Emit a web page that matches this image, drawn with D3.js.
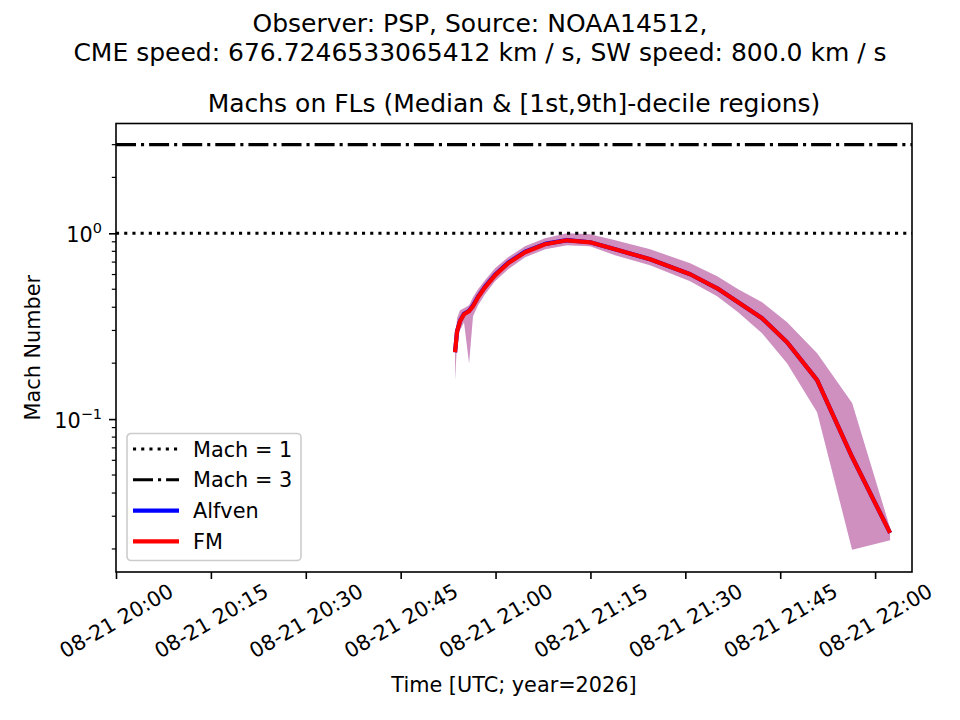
<!DOCTYPE html>
<html>
<head>
<meta charset="utf-8">
<script src="https://cdn.jsdelivr.net/npm/d3@7"></script>
<style>
  body { margin: 0; background: #fff; }
  svg text { font-family: "DejaVu Sans", sans-serif; fill: #000; }
</style>
</head>
<body>
<svg id="chart"></svg>
<script>
// sample times (UTC, 2026-08-21)
const times = ["20:53:36", "20:53:55", "20:54:23", "20:55:01", "20:55:49", "20:56:26",
  "20:57:14", "20:58:20", "20:59:55", "21:01:59", "21:04:40", "21:07:50", "21:11:18",
  "21:14:57", "21:18:54", "21:24:26", "21:30:46", "21:35:02", "21:38:21", "21:42:08",
  "21:46:05", "21:50:50", "21:56:22", "22:02:22"];

// FM mach number: median, 1st decile, 9th decile
const fmMedian = [0.229, 0.297, 0.336, 0.367, 0.381, 0.405, 0.453, 0.512, 0.594, 0.690,
  0.791, 0.873, 0.917, 0.894, 0.820, 0.725, 0.602, 0.506, 0.426, 0.349, 0.259, 0.162,
  0.0625, 0.0244];
const fmLow = [0.162, 0.259, 0.301, 0.332, 0.200, 0.358, 0.410, 0.470, 0.552, 0.640,
  0.743, 0.820, 0.862, 0.851, 0.762, 0.673, 0.552, 0.458, 0.376, 0.290, 0.200, 0.109,
  0.0198, 0.0223];
const fmHigh = [0.250, 0.349, 0.385, 0.395, 0.410, 0.453, 0.500, 0.559, 0.649, 0.743,
  0.851, 0.940, 1.000, 0.988, 0.917, 0.820, 0.690, 0.587, 0.500, 0.426, 0.332, 0.226,
  0.122, 0.0259];

// Alfven mach number (sits just under the FM curve)
const alfvenMedian = [0.229, 0.298, 0.337, 0.369, 0.383, 0.408, 0.456, 0.516, 0.598, 0.695,
  0.796, 0.877, 0.919, 0.895, 0.820, 0.725, 0.602, 0.506, 0.426, 0.349, 0.259, 0.162,
  0.0625, 0.0244];
const alfvenLow = fmLow;
const alfvenHigh = fmHigh;

const machLines = [1, 3];
const xTicks = ["20:00", "20:15", "20:30", "20:45", "21:00", "21:15", "21:30", "21:45", "22:00"];
const yMajor = [0.1, 1];
const yMinor = [0.02, 0.03, 0.04, 0.05, 0.06, 0.07, 0.08, 0.09, 0.2, 0.3, 0.4, 0.5, 0.6, 0.7, 0.8, 0.9, 2, 3];

const w = 960;
const h = 720;
const axL = 116, axR = 912, axT = 123.5, axB = 572;
const fs = 20.8;
const titleFs = 25;

const day = "2026-08-21T";
const parseT = (s) => new Date(day + (s.length === 5 ? s + ":00" : s) + "Z");

const svg = d3.select("#chart")
  .attr("width", w)
  .attr("height", h);

const xScale = d3.scaleUtc()
  .domain([parseT("20:00:00"), parseT("22:05:50")])
  .range([axL, axR]);

const yScale = d3.scaleLog()
  .domain([0.01503, 3.9])
  .range([axB, axT]);

const rows = times.map((t, i) => ({
  t: parseT(t),
  fm: fmMedian[i], fmLo: fmLow[i], fmHi: fmHigh[i],
  al: alfvenMedian[i], alLo: alfvenLow[i], alHi: alfvenHigh[i]
}));

svg.append("defs").append("clipPath").attr("id", "clip")
  .append("rect")
  .attr("x", axL).attr("y", axT)
  .attr("width", axR - axL).attr("height", axB - axT);

const plot = svg.append("g").attr("clip-path", "url(#clip)");

// decile bands
const band = (lo, hi) => d3.area()
  .x(d => xScale(d.t))
  .y0(d => yScale(d[lo]))
  .y1(d => yScale(d[hi]));

plot.append("path")
  .datum(rows)
  .attr("d", band("alLo", "alHi"))
  .attr("fill", "blue")
  .attr("fill-opacity", 0.25);

plot.append("path")
  .datum(rows)
  .attr("d", band("fmLo", "fmHi"))
  .attr("fill", "red")
  .attr("fill-opacity", 0.25);

// mach = 1 and mach = 3 reference lines
const machStyle = { 1: "3.1 5.1", 3: "20 5 3.1 5" };
plot.selectAll(".mach")
  .data(machLines)
  .join("line")
  .attr("class", "mach")
  .attr("x1", axL).attr("x2", axR)
  .attr("y1", d => yScale(d)).attr("y2", d => yScale(d))
  .attr("stroke", "#000")
  .attr("stroke-width", 3.1)
  .attr("stroke-dasharray", d => machStyle[d]);

// medians
const medLine = (key) => d3.line()
  .x(d => xScale(d.t))
  .y(d => yScale(d[key]));

plot.append("path")
  .datum(rows)
  .attr("d", medLine("al"))
  .attr("fill", "none")
  .attr("stroke", "blue")
  .attr("stroke-width", 4.2)
  .attr("stroke-linejoin", "round");

plot.append("path")
  .datum(rows)
  .attr("d", medLine("fm"))
  .attr("fill", "none")
  .attr("stroke", "red")
  .attr("stroke-width", 4.2)
  .attr("stroke-linejoin", "round");

// x axis
const xAxis = d3.axisBottom(xScale)
  .tickValues(xTicks.map(parseT))
  .tickSize(7)
  .tickSizeOuter(0)
  .tickPadding(7)
  .tickFormat(d3.utcFormat("%m-%d %H:%M"));

const gx = svg.append("g")
  .attr("transform", "translate(0," + axB + ")")
  .call(xAxis);
gx.select(".domain").remove();
gx.selectAll(".tick line").attr("stroke", "#000").attr("stroke-width", 1.6);
gx.selectAll(".tick text")
  .attr("font-size", fs)
  .attr("y", 0)
  .attr("dy", 0)
  .attr("text-anchor", "middle")
  .attr("dominant-baseline", "central")
  .attr("transform", "translate(0,49) rotate(-30)");

// y axis (log)
const yAxis = d3.axisLeft(yScale)
  .tickValues(yMajor)
  .tickSize(7)
  .tickSizeOuter(0)
  .tickPadding(7)
  .tickFormat("");

const gy = svg.append("g")
  .attr("transform", "translate(" + axL + ",0)")
  .call(yAxis);
gy.select(".domain").remove();
gy.selectAll(".tick line").attr("stroke", "#000").attr("stroke-width", 1.6);
gy.selectAll(".tick text").remove();
gy.selectAll(".tick").each(function (d) {
  const t = d3.select(this).append("text")
    .attr("x", -14)
    .attr("y", 8)
    .attr("text-anchor", "end")
    .attr("font-size", fs);
  t.append("tspan").text("10");
  t.append("tspan")
    .attr("dy", -9)
    .attr("font-size", 14.5)
    .text(d === 1 ? "0" : "\u22121");
});

svg.append("g")
  .selectAll("line")
  .data(yMinor)
  .join("line")
  .attr("x1", axL - 4.2).attr("x2", axL)
  .attr("y1", d => yScale(d)).attr("y2", d => yScale(d))
  .attr("stroke", "#000")
  .attr("stroke-width", 1.2);

// frame
svg.append("rect")
  .attr("x", axL).attr("y", axT)
  .attr("width", axR - axL).attr("height", axB - axT)
  .attr("fill", "none")
  .attr("stroke", "#000")
  .attr("stroke-width", 1.6);

// titles and labels
svg.append("text")
  .attr("x", 480).attr("y", 32)
  .attr("text-anchor", "middle")
  .attr("font-size", titleFs)
  .text("Observer: PSP, Source: NOAA14512,");
svg.append("text")
  .attr("x", 480).attr("y", 61)
  .attr("text-anchor", "middle")
  .attr("font-size", titleFs)
  .text("CME speed: 676.7246533065412 km / s, SW speed: 800.0 km / s");
svg.append("text")
  .attr("x", (axL + axR) / 2).attr("y", 112)
  .attr("text-anchor", "middle")
  .attr("font-size", titleFs)
  .text("Machs on FLs (Median & [1st,9th]-decile regions)");
svg.append("text")
  .attr("x", (axL + axR) / 2).attr("y", 692)
  .attr("text-anchor", "middle")
  .attr("font-size", fs)
  .text("Time [UTC; year=2026]");
svg.append("text")
  .attr("transform", "translate(40," + ((axT + axB) / 2) + ") rotate(-90)")
  .attr("text-anchor", "middle")
  .attr("font-size", fs)
  .text("Mach Number");

// legend
const legendItems = [
  { label: "Mach = 1", color: "#000", dash: machStyle[1], width: 3.1 },
  { label: "Mach = 3", color: "#000", dash: machStyle[3], width: 3.1 },
  { label: "Alfven", color: "blue", dash: null, width: 4.2 },
  { label: "FM", color: "red", dash: null, width: 4.2 }
];

const legend = svg.append("g").attr("transform", "translate(127,433.5)");
legend.append("rect")
  .attr("width", 174).attr("height", 127)
  .attr("rx", 4)
  .attr("fill", "#fff").attr("fill-opacity", 0.8)
  .attr("stroke", "#ccc").attr("stroke-width", 1.6);

const entry = legend.selectAll(".entry")
  .data(legendItems)
  .join("g")
  .attr("class", "entry")
  .attr("transform", (d, i) => "translate(0," + (15.5 + i * 30.8) + ")");
entry.append("line")
  .attr("x1", 6).attr("x2", 52)
  .attr("stroke", d => d.color)
  .attr("stroke-width", d => d.width)
  .attr("stroke-dasharray", d => d.dash);
entry.append("text")
  .attr("x", 66).attr("y", 7.5)
  .attr("font-size", fs)
  .text(d => d.label);
</script>
</body>
</html>
